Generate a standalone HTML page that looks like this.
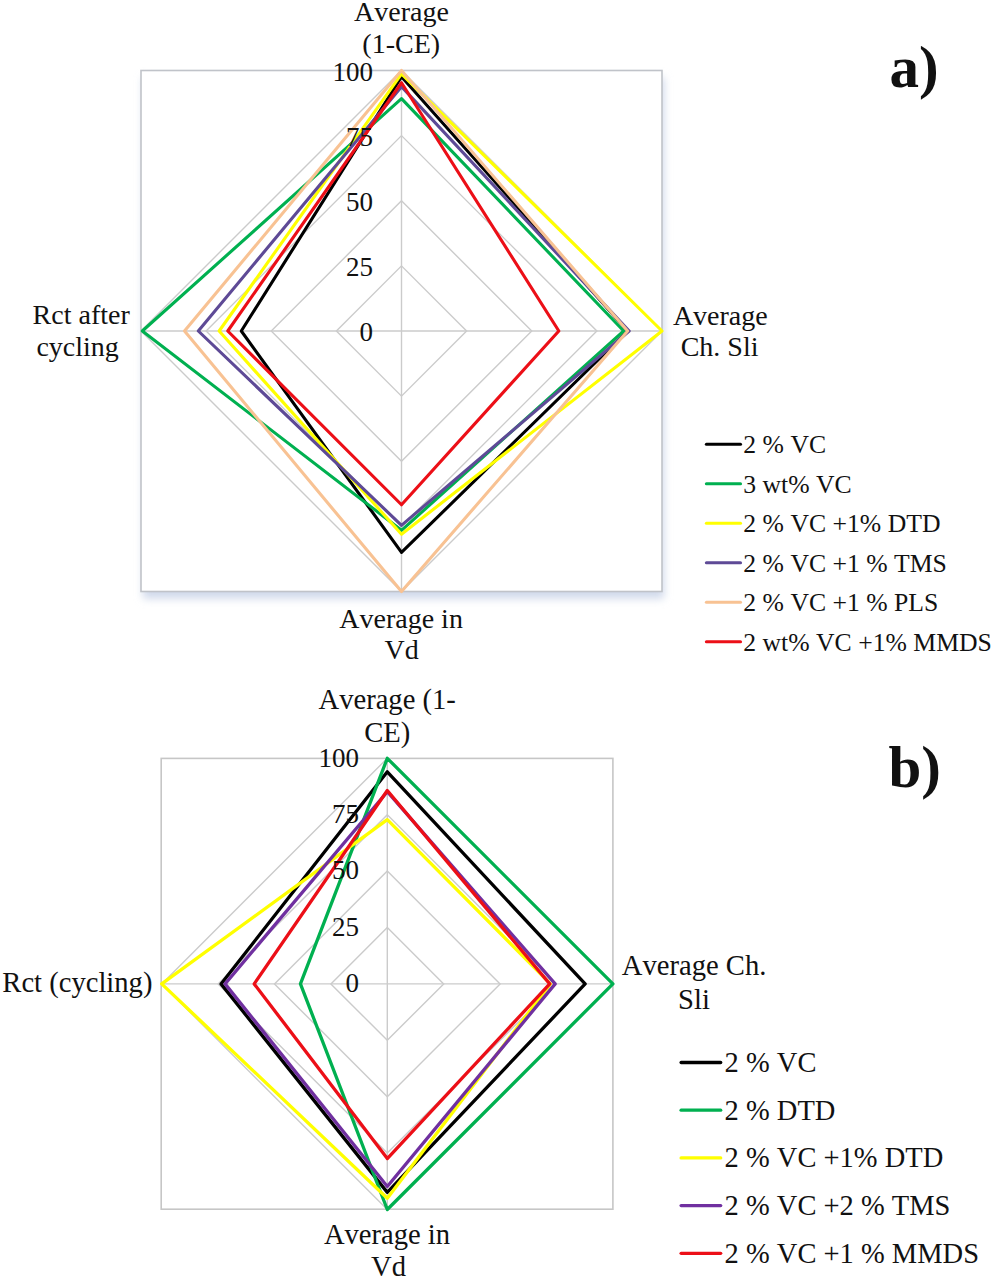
<!DOCTYPE html>
<html><head><meta charset="utf-8"><style>
html,body{margin:0;padding:0;background:#fff;}
body{width:992px;height:1280px;overflow:hidden;}
svg{display:block;}
text{font-family:"Liberation Serif", serif;fill:#111;font-kerning:none;}
</style></head><body>
<svg width="992" height="1280" viewBox="0 0 992 1280">
<defs><filter id="blur" x="-10%" y="-10%" width="120%" height="120%"><feGaussianBlur stdDeviation="4.5"/></filter></defs>
<rect width="992" height="1280" fill="#fff"/>
<rect x="143.0" y="77.5" width="521.0" height="521.0" fill="#cfd8ea" filter="url(#blur)"/>
<rect x="141.0" y="70.5" width="521.0" height="521.0" fill="#fff" stroke="#c0c3c9" stroke-width="1.6"/>
<polygon points="401.50,265.88 466.62,331.00 401.50,396.12 336.38,331.00" fill="none" stroke="#cbcbcb" stroke-width="1.4"/>
<polygon points="401.50,200.75 531.75,331.00 401.50,461.25 271.25,331.00" fill="none" stroke="#cbcbcb" stroke-width="1.4"/>
<polygon points="401.50,135.62 596.88,331.00 401.50,526.38 206.12,331.00" fill="none" stroke="#cbcbcb" stroke-width="1.4"/>
<polygon points="401.50,70.50 662.00,331.00 401.50,591.50 141.00,331.00" fill="none" stroke="#cbcbcb" stroke-width="1.4"/>
<line x1="401.5" y1="70.5" x2="401.5" y2="591.5" stroke="#cbcbcb" stroke-width="1.4"/>
<line x1="141.0" y1="331.0" x2="662.0" y2="331.0" stroke="#cbcbcb" stroke-width="1.4"/>
<polygon points="401.50,76.75 627.61,331.00 401.50,552.42 241.29,331.00" fill="none" stroke="#000000" stroke-width="3.1" stroke-linejoin="round"/>
<polygon points="401.50,98.63 623.71,331.00 401.50,530.28 142.30,331.00" fill="none" stroke="#00b050" stroke-width="3.1" stroke-linejoin="round"/>
<polygon points="401.50,73.89 662.00,331.00 401.50,534.19 219.15,331.00" fill="none" stroke="#ffff00" stroke-width="3.1" stroke-linejoin="round"/>
<polygon points="401.50,86.65 629.18,331.00 401.50,525.33 198.31,331.00" fill="none" stroke="#5e4a96" stroke-width="3.1" stroke-linejoin="round"/>
<polygon points="401.50,70.50 627.61,331.00 401.50,591.50 184.50,331.00" fill="none" stroke="#f8c293" stroke-width="3.1" stroke-linejoin="round"/>
<polygon points="401.50,82.74 558.84,331.00 401.50,504.75 227.75,331.00" fill="none" stroke="#ec0f17" stroke-width="3.1" stroke-linejoin="round"/>
<text x="373" y="341.20" text-anchor="end" font-size="27">0</text>
<text x="373" y="276.07" text-anchor="end" font-size="27">25</text>
<text x="373" y="210.95" text-anchor="end" font-size="27">50</text>
<text x="373" y="145.82" text-anchor="end" font-size="27">75</text>
<text x="373" y="80.70" text-anchor="end" font-size="27">100</text>
<text x="401.4" y="20.7" text-anchor="middle" font-size="28.0">Average</text>
<text x="401.2" y="52.8" text-anchor="middle" font-size="28.0">(1-CE)</text>
<text x="720.3" y="324.7" text-anchor="middle" font-size="28.0">Average</text>
<text x="719.6" y="356.2" text-anchor="middle" font-size="28.0">Ch. Sli</text>
<text x="401.1" y="627.5" text-anchor="middle" font-size="28.0">Average in</text>
<text x="401.7" y="659.3" text-anchor="middle" font-size="28.0">Vd</text>
<text x="81.2" y="324.3" text-anchor="middle" font-size="28.0">Rct after</text>
<text x="77.6" y="355.5" text-anchor="middle" font-size="28.0">cycling</text>
<line x1="706.4" y1="444.20" x2="740.5" y2="444.20" stroke="#000000" stroke-width="3.1" stroke-linecap="round"/>
<text x="743.3" y="453.30" font-size="25.7">2 % VC</text>
<line x1="706.4" y1="483.70" x2="740.5" y2="483.70" stroke="#00b050" stroke-width="3.1" stroke-linecap="round"/>
<text x="743.3" y="492.80" font-size="25.7">3 wt% VC</text>
<line x1="706.4" y1="523.20" x2="740.5" y2="523.20" stroke="#ffff00" stroke-width="3.1" stroke-linecap="round"/>
<text x="743.3" y="532.30" font-size="25.7">2 % VC +1% DTD</text>
<line x1="706.4" y1="562.70" x2="740.5" y2="562.70" stroke="#5e4a96" stroke-width="3.1" stroke-linecap="round"/>
<text x="743.3" y="571.80" font-size="25.7">2 % VC +1 % TMS</text>
<line x1="706.4" y1="602.20" x2="740.5" y2="602.20" stroke="#f8c293" stroke-width="3.1" stroke-linecap="round"/>
<text x="743.3" y="611.30" font-size="25.7">2 % VC +1 % PLS</text>
<line x1="706.4" y1="641.70" x2="740.5" y2="641.70" stroke="#ec0f17" stroke-width="3.1" stroke-linecap="round"/>
<text x="743.3" y="650.80" font-size="25.7">2 wt% VC +1% MMDS</text>
<rect x="161.2" y="758.4" width="451.7" height="450.80000000000007" fill="#fff" stroke="#c6c6c6" stroke-width="1.6"/>
<polygon points="387.30,927.50 443.70,983.90 387.30,1040.30 330.90,983.90" fill="none" stroke="#cbcbcb" stroke-width="1.4"/>
<polygon points="387.30,871.10 500.10,983.90 387.30,1096.70 274.50,983.90" fill="none" stroke="#cbcbcb" stroke-width="1.4"/>
<polygon points="387.30,814.70 556.50,983.90 387.30,1153.10 218.10,983.90" fill="none" stroke="#cbcbcb" stroke-width="1.4"/>
<polygon points="387.30,758.30 612.90,983.90 387.30,1209.50 161.70,983.90" fill="none" stroke="#cbcbcb" stroke-width="1.4"/>
<line x1="387.3" y1="758.3" x2="387.3" y2="1209.5" stroke="#cbcbcb" stroke-width="1.4"/>
<line x1="161.70000000000002" y1="983.9" x2="612.9" y2="983.9" stroke="#cbcbcb" stroke-width="1.4"/>
<polygon points="387.30,771.84 585.15,983.90 387.30,1192.35 221.03,983.90" fill="none" stroke="#000000" stroke-width="3.3" stroke-linejoin="round"/>
<polygon points="387.30,758.30 612.90,983.90 387.30,1209.50 300.44,983.90" fill="none" stroke="#00b050" stroke-width="3.3" stroke-linejoin="round"/>
<polygon points="387.30,819.66 550.41,983.90 387.30,1198.22 161.70,983.90" fill="none" stroke="#ffff00" stroke-width="3.3" stroke-linejoin="round"/>
<polygon points="387.30,791.69 555.15,983.90 387.30,1186.49 225.09,983.90" fill="none" stroke="#7030a0" stroke-width="3.3" stroke-linejoin="round"/>
<polygon points="387.30,790.56 549.73,983.90 387.30,1158.51 254.20,983.90" fill="none" stroke="#ec0f17" stroke-width="3.3" stroke-linejoin="round"/>
<text x="359" y="992.20" text-anchor="end" font-size="27">0</text>
<text x="359" y="935.80" text-anchor="end" font-size="27">25</text>
<text x="359" y="879.40" text-anchor="end" font-size="27">50</text>
<text x="359" y="823.00" text-anchor="end" font-size="27">75</text>
<text x="359" y="766.60" text-anchor="end" font-size="27">100</text>
<text x="387.2" y="708.8" text-anchor="middle" font-size="28.6">Average (1-</text>
<text x="387.2" y="741.6" text-anchor="middle" font-size="28.6">CE)</text>
<text x="694.1" y="975.4" text-anchor="middle" font-size="28.6">Average Ch.</text>
<text x="694.0" y="1008.6" text-anchor="middle" font-size="28.6">Sli</text>
<text x="387.0" y="1243.9" text-anchor="middle" font-size="28.6">Average in</text>
<text x="388.6" y="1276.1" text-anchor="middle" font-size="28.6">Vd</text>
<text x="77.4" y="991.7" text-anchor="middle" font-size="28.6">Rct (cycling)</text>
<line x1="681.1" y1="1062.50" x2="720.7" y2="1062.50" stroke="#000000" stroke-width="3.3" stroke-linecap="round"/>
<text x="724.6" y="1072.00" font-size="28.5">2 % VC</text>
<line x1="681.1" y1="1110.20" x2="720.7" y2="1110.20" stroke="#00b050" stroke-width="3.3" stroke-linecap="round"/>
<text x="724.6" y="1119.70" font-size="28.5">2 % DTD</text>
<line x1="681.1" y1="1157.90" x2="720.7" y2="1157.90" stroke="#ffff00" stroke-width="3.3" stroke-linecap="round"/>
<text x="724.6" y="1167.40" font-size="28.5">2 % VC +1% DTD</text>
<line x1="681.1" y1="1205.60" x2="720.7" y2="1205.60" stroke="#7030a0" stroke-width="3.3" stroke-linecap="round"/>
<text x="724.6" y="1215.10" font-size="28.5">2 % VC +2 % TMS</text>
<line x1="681.1" y1="1253.30" x2="720.7" y2="1253.30" stroke="#ec0f17" stroke-width="3.3" stroke-linecap="round"/>
<text x="724.6" y="1262.80" font-size="28.5">2 % VC +1 % MMDS</text>
<text x="889.6" y="87.2" font-size="59" font-weight="bold">a)</text>
<text x="888.4" y="786.7" font-size="59" font-weight="bold">b)</text>
</svg>
</body></html>
